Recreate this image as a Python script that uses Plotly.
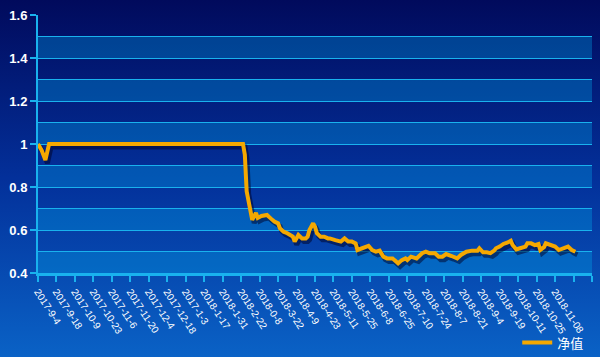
import base64
import plotly.graph_objects as go

# ---- data (category index of trading day, net value) ----
day_index = [0, 2, 4, 5, 6, 111, 112, 113, 115, 116, 118, 119, 121, 124, 126, 128, 130, 131, 133, 135,
             138, 139, 141, 143, 145, 146, 147, 149, 150, 151, 153, 155, 157, 158, 161, 164, 166, 168, 170, 172,
             173, 175, 179, 181, 183, 185, 187, 189, 192, 193, 195, 197, 199, 200, 202, 205, 208, 210, 212, 215,
             217, 219, 221, 224, 227, 229, 232, 235, 238, 239, 241, 243, 245, 247, 248, 250, 252, 254, 256, 257,
             259, 261, 264, 265, 267, 269, 271, 272, 274, 275, 278, 280, 282, 284, 285, 287, 289, 291]
net_value = [1.0, 0.97, 0.925, 0.96, 1.0, 1.0, 0.95, 0.78, 0.68, 0.647, 0.68, 0.656, 0.665, 0.67, 0.654, 0.639, 0.631, 0.608, 0.592, 0.585,
             0.569, 0.546, 0.577, 0.561, 0.561, 0.569, 0.60, 0.631, 0.615, 0.585, 0.569, 0.569, 0.561, 0.561, 0.553, 0.546, 0.561, 0.546, 0.546, 0.538,
             0.507, 0.515, 0.526, 0.507, 0.499, 0.504, 0.476, 0.468, 0.468, 0.46, 0.445, 0.46, 0.468, 0.46, 0.476, 0.468, 0.492, 0.499, 0.492, 0.492,
             0.476, 0.476, 0.488, 0.479, 0.468, 0.484, 0.499, 0.504, 0.504, 0.515, 0.496, 0.496, 0.492, 0.504, 0.515, 0.523, 0.535, 0.541, 0.55, 0.53,
             0.51, 0.515, 0.523, 0.538, 0.538, 0.53, 0.535, 0.507, 0.52, 0.538, 0.53, 0.523, 0.507, 0.515, 0.515, 0.523, 0.507, 0.499]
assert len(day_index) == len(net_value)

tick_positions = list(range(0, 301, 10))
tick_labels = ["2017-9-4", "2017-9-18", "2017-10-9", "2017-10-23", "2017-11-6", "2017-11-20",
               "2017-12-4", "2017-12-18", "2017-1-3", "2018-1-17", "2018-1-31", "2018-2-22",
               "2018-0-8", "2018-3-22", "2018-4-9", "2018-4-23", "2018-5-11", "2018-5-25",
               "2018-6-8", "2018-6-25", "2018-7-10", "2018-7-24", "2018-8-7", "2018-8-21",
               "2018-9-4", "2018-9-19", "2018-10-11", "2018-10-25", "2018-11-08", "", ""]
band_starts = [0.4, 0.6, 0.8, 1.0, 1.2, 1.4]
series_name = "净值"

# ---- styling ----
W, H = 600, 357
ML, MR, MT, MB = 38, 8, 15, 84
PW, PH = W - ML - MR, H - MT - MB
CYAN = "#19b2ee"
ORANGE = "#f5a800"

svg = ('<svg xmlns="http://www.w3.org/2000/svg" width="600" height="357" preserveAspectRatio="none">'
       '<defs><linearGradient id="g" x1="0" y1="0" x2="0" y2="1">'
       '<stop offset="0" stop-color="#010a5c"/><stop offset="0.5" stop-color="#03309a"/>'
       '<stop offset="1" stop-color="#0a62c6"/></linearGradient></defs>'
       '<rect width="600" height="357" fill="url(#g)"/></svg>')
bg_src = "data:image/svg+xml;base64," + base64.b64encode(svg.encode()).decode()

fig = go.Figure()
# shadow (same data, on a slightly shifted overlay scale)
fig.add_trace(go.Scatter(x=day_index, y=net_value, xaxis="x2", yaxis="y2", mode="lines",
                         line=dict(color="rgba(0,0,35,0.5)", width=5), showlegend=False,
                         hoverinfo="skip"))
fig.add_trace(go.Scatter(x=day_index, y=net_value, xaxis="x3", yaxis="y3", mode="lines",
                         name=series_name, line=dict(color=ORANGE, width=4)))

shapes = [dict(type="rect", xref="paper", x0=0, x1=1, yref="y", y0=b, y1=b + 0.1,
               fillcolor="rgba(0,170,235,0.32)", line=dict(width=0), layer="below")
          for b in band_starts]

xshift = 2 * 300 / PW
yshift = 3 * 1.2 / PH

fig.update_layout(
    width=W, height=H,
    margin=dict(l=ML, r=MR, t=MT, b=MB, autoexpand=False),
    paper_bgcolor="#03309a", plot_bgcolor="rgba(0,0,0,0)",
    images=[dict(source=bg_src, xref="paper", yref="paper", x=-ML / PW, y=1 + MT / PH,
                 sizex=W / PW, sizey=H / PH, xanchor="left", yanchor="top",
                 sizing="stretch", layer="below")],
    shapes=shapes,
    xaxis=dict(range=[0, 300], tickmode="array", tickvals=tick_positions, ticktext=tick_labels,
               tickangle=57, tickfont=dict(family="Liberation Sans", size=10, color="white"),
               showgrid=False, zeroline=False, showline=True, linecolor=CYAN, linewidth=3,
               ticks="outside", ticklen=6, tickwidth=2, tickcolor=CYAN, automargin=False),
    yaxis=dict(range=[0.4, 1.6], tick0=0.4, dtick=0.2,
               tickfont=dict(family="Liberation Sans", size=13, color="white", weight="bold"),
               showgrid=True, gridcolor=CYAN, gridwidth=1, zeroline=False,
               showline=True, linecolor=CYAN, linewidth=2,
               ticks="outside", ticklen=6, tickwidth=2, tickcolor=CYAN, automargin=False,
               minor=dict(tick0=0.4, dtick=0.1, showgrid=True, gridcolor=CYAN, gridwidth=1, ticks="")),
    xaxis2=dict(overlaying="x", range=[-xshift, 300 - xshift], visible=False),
    yaxis2=dict(overlaying="y", range=[0.4 + yshift, 1.6 + yshift], visible=False),
    xaxis3=dict(overlaying="x", range=[0, 300], visible=False),
    yaxis3=dict(overlaying="y", range=[0.4, 1.6], visible=False),
    showlegend=True,
    legend=dict(x=0.995, xanchor="right", y=-0.27, yanchor="middle", bgcolor="rgba(0,0,0,0)",
                font=dict(family="Noto Sans CJK SC", size=13, color="white"), itemwidth=30),
)

fig.write_html("out.html", config={"displayModeBar": False},
               post_script="document.body.style.margin='0';document.body.style.padding='0';"
                           "document.body.style.background='#0a62c6';")
